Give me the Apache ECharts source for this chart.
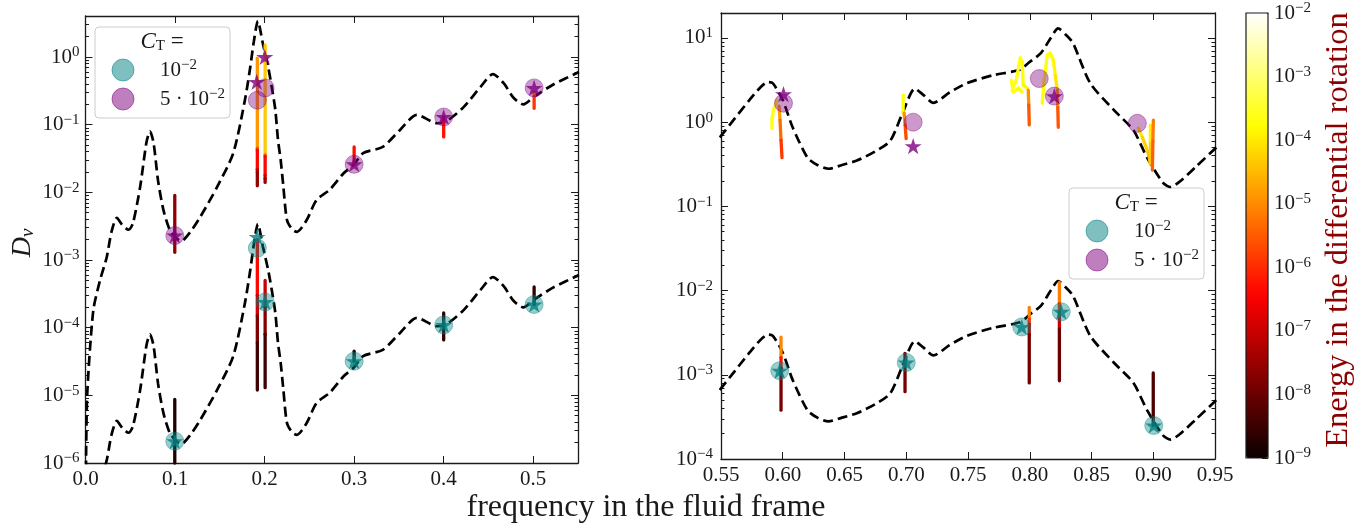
<!DOCTYPE html>
<html>
<head>
<meta charset="utf-8">
<script src="https://cdn.jsdelivr.net/npm/echarts@6/dist/echarts.min.js"></script>
<style>
html, body { margin: 0; padding: 0; background: #fff; }
#chart { width: 1367px; height: 525px; }
</style>
</head>
<body>
<div id="chart"></div>
<script>
// 左图：虚线曲线（频率 / D）
var leftFreq = [0.0, 0.0006, 0.002, 0.0087, 0.0162, 0.0237, 0.029, 0.035, 0.041, 0.048, 0.053, 0.061, 0.068, 0.072,
    0.076, 0.081, 0.087, 0.094, 0.100, 0.107, 0.117, 0.128, 0.147, 0.165, 0.178, 0.184, 0.188, 0.1925,
    0.198, 0.204, 0.208, 0.212, 0.215, 0.218, 0.221, 0.225, 0.231, 0.236, 0.247, 0.258, 0.273, 0.288, 0.300,
    0.310, 0.332, 0.351, 0.370, 0.393, 0.402, 0.422, 0.441, 0.455, 0.467, 0.478, 0.489, 0.501, 0.522, 0.551];
var leftUpperD = [1e-7, 1.1e-6, 1.1e-5, 1.8e-4, 5e-4, 1.1e-3, 2.6e-3, 4.2e-3, 3.3e-3, 2.8e-3, 3.5e-3, 1.2e-2, 5.4e-2, 8e-2,
    5.4e-2, 1.5e-2, 5.5e-3, 2.8e-3, 2.2e-3, 1.9e-3, 2.6e-3, 4.3e-3, 1.2e-2, 3.8e-2, 0.23, 0.71, 1.7, 3.4,
    1.6, 0.71, 0.36, 0.165, 0.059, 0.030, 0.012, 3.9e-3, 2.8e-3, 2.6e-3, 3.9e-3, 7.7e-3, 1.1e-2, 1.9e-2, 2.6e-2,
    3.8e-2, 4.7e-2, 8.3e-2, 0.14, 0.105, 0.11, 0.18, 0.36, 0.56, 0.41, 0.25, 0.2, 0.26, 0.39, 0.6];
var leftLowerD = [1e-10, 1.1e-9, 1.1e-8, 1.8e-7, 5e-7, 1.1e-6, 2.6e-6, 4.2e-6, 3.3e-6, 2.8e-6, 3.5e-6, 1.2e-5, 5.4e-5, 8e-5,
    5.4e-5, 1.5e-5, 5.5e-6, 2.8e-6, 2.2e-6, 1.9e-6, 2.6e-6, 4.3e-6, 1.2e-5, 3.8e-5, 2.3e-4, 7.1e-4, 1.7e-3, 3.4e-3,
    1.6e-3, 7.1e-4, 3.6e-4, 1.65e-4, 5.9e-5, 3.0e-5, 1.2e-5, 3.9e-6, 2.8e-6, 2.6e-6, 3.9e-6, 7.7e-6, 1.1e-5, 1.9e-5, 2.6e-5,
    3.8e-5, 4.7e-5, 8.3e-5, 1.4e-4, 1.05e-4, 1.1e-4, 1.8e-4, 3.6e-4, 5.6e-4, 4.1e-4, 2.5e-4, 2e-4, 2.6e-4, 3.9e-4, 6e-4];

// 右图：虚线曲线
var rightFreq = [0.549, 0.561, 0.573, 0.582, 0.588, 0.592, 0.600, 0.608, 0.620, 0.628, 0.637, 0.648, 0.660, 0.675,
    0.687, 0.697, 0.707, 0.714, 0.722, 0.735, 0.749, 0.770, 0.792, 0.800, 0.809, 0.817, 0.823, 0.829, 0.835,
    0.849, 0.868, 0.884, 0.895, 0.908, 0.914, 0.922, 0.935, 0.951];
var rightUpperD = [0.66, 1.1, 1.83, 2.6, 3.0, 2.9, 1.83, 0.87, 0.38, 0.31, 0.28, 0.31, 0.35, 0.45,
    0.6, 1.28, 2.5, 2.1, 1.7, 2.25, 2.9, 3.6, 4.2, 5.2, 6.6, 10, 13, 11, 8.7,
    2.9, 1.4, 0.8, 0.38, 0.19, 0.17, 0.2, 0.3, 0.5];
var rightLowerD = [6.6e-4, 1.1e-3, 1.83e-3, 2.6e-3, 3.0e-3, 2.9e-3, 1.83e-3, 8.7e-4, 3.8e-4, 3.1e-4, 2.8e-4, 3.1e-4, 3.5e-4, 4.5e-4,
    6e-4, 1.28e-3, 2.5e-3, 2.1e-3, 1.7e-3, 2.25e-3, 2.9e-3, 3.6e-3, 4.2e-3, 5.2e-3, 6.6e-3, 1.0e-2, 1.3e-2, 1.1e-2, 8.7e-3,
    2.9e-3, 1.4e-3, 8e-4, 3.8e-4, 1.9e-4, 1.7e-4, 2e-4, 3e-4, 5e-4];

// 散点：圆点和星号 [频率, D]
var leftTealCircles = [[0.0997, 2.1e-6], [0.1919, 1.5e-3], [0.2006, 2.4e-4], [0.300, 3.2e-5], [0.400, 1.1e-4], [0.501, 2.2e-4]];
var leftTealStars = [[0.0997, 2.1e-6], [0.1916, 2.2e-3], [0.2006, 2.4e-4], [0.300, 3.2e-5], [0.400, 1.1e-4], [0.501, 2.2e-4]];
var leftPurpleCircles = [[0.0997, 2.3e-3], [0.1919, 0.23], [0.2006, 0.35], [0.300, 2.6e-2], [0.400, 0.13], [0.501, 0.35]];
var leftPurpleStars = [[0.0997, 2.3e-3], [0.1912, 0.43], [0.2002, 1.0], [0.300, 2.6e-2], [0.400, 0.13], [0.501, 0.35]];
var rightTealCircles = [[0.5975, 1.12e-3], [0.700, 1.4e-3], [0.7935, 3.7e-3], [0.8255, 5.6e-3], [0.9004, 2.5e-4]];
var rightTealStars = [[0.5975, 1.12e-3], [0.700, 1.4e-3], [0.7935, 3.7e-3], [0.8255, 5.6e-3], [0.9004, 2.5e-4]];
var rightPurpleCircles = [[0.6006, 1.68], [0.7056, 1.0], [0.8077, 3.3], [0.8199, 2.04], [0.8871, 0.97]];
var rightPurpleStars = [[0.6006, 2.15], [0.7056, 0.52], [0.8199, 2.04]];

// 轨迹线：[频率, D, log10(能量)]
var leftTracks = [
    [[0.0997, 9e-3, -7.6], [0.0997, 1.3e-3, -7.6]],
    [[0.1919, 0.96, -4.8], [0.1919, 0.045, -4.9], [0.1919, 0.042, -6.3], [0.1919, 0.022, -6.5], [0.1919, 0.02, -7.5], [0.1919, 0.0125, -7.6]],
    [[0.2006, 1.5, -4.3], [0.2006, 0.036, -4.4], [0.2006, 0.034, -6.3], [0.2006, 0.018, -6.5], [0.2006, 0.016, -7.4], [0.2006, 0.014, -7.5]],
    [[0.300, 0.047, -6.3], [0.300, 0.026, -6.3]],
    [[0.400, 0.13, -6.3], [0.400, 0.066, -6.2]],
    [[0.501, 0.30, -5.0], [0.501, 0.26, -5.6], [0.501, 0.175, -6.2]],
    [[0.0997, 8.7e-6, -8.7], [0.0997, 1e-6, -8.8]],
    [[0.1919, 2e-3, -6.3], [0.1919, 3e-4, -6.5], [0.1919, 1.5e-4, -7.4], [0.1919, 6e-5, -8.2], [0.1919, 1.2e-5, -8.7]],
    [[0.2006, 5e-4, -6.7], [0.2006, 2e-4, -7.3], [0.2006, 8e-5, -8.1], [0.2006, 1.3e-5, -8.7]],
    [[0.300, 4.5e-5, -8.7], [0.300, 3.2e-5, -8.7]],
    [[0.400, 1.65e-4, -8.6], [0.400, 6.6e-5, -8.6]],
    [[0.501, 4e-4, -8.6], [0.501, 2.2e-4, -8.6]]
];
var rightTracks = [
    [[0.5954, 1.83, -3.6], [0.5930, 1.47, -3.6], [0.5913, 1.12, -3.7], [0.5913, 0.85, -3.7]],
    [[0.5970, 1.55, -4.6], [0.5978, 1.06, -5.0], [0.5986, 0.61, -5.6], [0.5994, 0.38, -6.1]],
    [[0.6975, 2.1, -3.7], [0.6975, 1.64, -3.7], [0.6975, 1.28, -3.8]],
    [[0.6983, 1.28, -4.6], [0.6991, 0.92, -5.3], [0.6999, 0.64, -6.0]],
    [[0.7858, 2.4, -3.7], [0.7891, 3.16, -3.6], [0.7923, 5.8, -3.6], [0.7939, 5.2, -3.7], [0.7947, 2.76, -3.8], [0.7980, 2.54, -3.9]],
    [[0.7850, 3.16, -3.6], [0.7866, 2.28, -3.6], [0.7907, 2.54, -3.7], [0.7939, 2.28, -3.8]],
    [[0.7988, 2.4, -4.7], [0.7992, 1.6, -5.2], [0.7996, 0.93, -5.9]],
    [[0.8101, 1.68, -3.8], [0.8117, 3.16, -3.7], [0.8142, 6.3, -3.6], [0.8166, 6.6, -3.7], [0.8190, 5.5, -3.8], [0.8207, 3.6, -3.9], [0.8223, 2.4, -4.2]],
    [[0.8223, 2.4, -4.6], [0.8227, 1.5, -5.2], [0.8231, 0.87, -5.9]],
    [[0.8879, 0.85, -3.9], [0.8912, 0.66, -4.1], [0.8960, 0.43, -4.4], [0.8977, 0.32, -4.6], [0.8977, 0.6, -4.0], [0.8977, 0.92, -3.9]],
    [[0.9001, 1.06, -5.0], [0.8997, 0.6, -5.3], [0.8993, 0.27, -5.6]],
    [[0.5986, 2.8e-3, -4.9], [0.5986, 1.6e-3, -5.2], [0.5986, 1.2e-3, -7.2], [0.5986, 3.8e-4, -8.5]],
    [[0.699, 1.8e-3, -7.5], [0.699, 6.3e-4, -8.2]],
    [[0.7996, 6.3e-3, -5.0], [0.7996, 4.6e-3, -5.2], [0.7996, 4e-3, -6.5], [0.7996, 3e-3, -7.4], [0.7996, 8e-4, -8.4]],
    [[0.824, 1.25e-2, -5.0], [0.824, 7e-3, -5.3], [0.824, 5.5e-3, -6.5], [0.824, 3.5e-3, -7.4], [0.824, 8.5e-4, -8.5]],
    [[0.900, 1.05e-3, -8.2], [0.900, 2.5e-4, -8.4]]
];

// 刻度
var leftXTicks = [0.0, 0.1, 0.2, 0.3, 0.4, 0.5];
var rightXTicks = [0.55, 0.60, 0.65, 0.70, 0.75, 0.80, 0.85, 0.90, 0.95];
var leftYRange = [1e-6, 4.04];
var rightYRange = [1e-4, 19.8];
var energyRange = [1e-9, 1e-2];

var FONT = 'Liberation Serif';
var INK = '#1a1a1a';
var TEAL = 'rgba(0,128,128,0.5)';
var PURPLE = 'rgba(128,0,128,0.5)';
var STAR = 'path://M50,0 L61.8,36.2 L100,36.2 L69.1,58.6 L80.9,95 L50,72.6 L19.1,95 L30.9,58.6 L0,36.2 L38.2,36.2 Z';

function lg(v) { return Math.log10(v); }

function toPoints(xs, ys) {
    return xs.map(function (x, i) { return [x, lg(ys[i])]; });
}

function toLogPairs(list) {
    return list.map(function (p) { return [p[0], lg(p[1])]; });
}

// 轨迹拆成线段，颜色由 visualMap 按能量给出
function toSegments(tracks) {
    var out = [];
    tracks.forEach(function (t) {
        for (var i = 0; i < t.length - 1; i++) {
            out.push([t[i][0], lg(t[i][1]), t[i + 1][0], lg(t[i + 1][1]), (t[i][2] + t[i + 1][2]) / 2]);
        }
    });
    return out;
}

function majorVals(lo, hi) {
    var out = [];
    for (var n = Math.ceil(lo - 1e-9); n <= hi + 1e-9; n++) out.push(n);
    return out;
}

function minorVals(lo, hi) {
    var out = [];
    for (var n = Math.floor(lo); n < hi; n++) {
        for (var k = 2; k <= 9; k++) {
            var v = n + Math.log10(k);
            if (v > lo && v < hi) out.push(v);
        }
    }
    return out;
}

// 热力色带 hot
function hotColor(t) {
    var r = Math.min(1, 0.0416 + (1 - 0.0416) * t / 0.365);
    var g = Math.min(1, Math.max(0, (t - 0.365) / 0.381));
    var b = Math.min(1, Math.max(0, (t - 0.746) / 0.254));
    function h(c) { var s = Math.round(c * 255).toString(16); return s.length < 2 ? '0' + s : s; }
    return '#' + h(r) + h(g) + h(b);
}
var hotColors = [];
for (var i = 0; i <= 40; i++) hotColors.push(hotColor(i / 40));

var supRich = {
    b: { fontFamily: FONT, fontSize: 21, color: INK, lineHeight: 24 },
    s: { fontFamily: FONT, fontSize: 15, color: INK, verticalAlign: 'top', lineHeight: 15 }
};

function powLabel(v) {
    var n = Math.round(v);
    return '{b|10}{s|' + (n < 0 ? '\u2212' + (-n) : n) + '}';
}

function yAxisSet(grid, range, labelSide, showLabels, margin) {
    var lo = lg(range[0]), hi = lg(range[1]);
    var other = labelSide === 'left' ? 'right' : 'left';
    var base = { type: 'value', gridIndex: grid, min: lo, max: hi, splitLine: { show: false } };
    function axis(pos, major, labels, line) {
        return Object.assign({}, base, {
            position: pos,
            axisLine: { show: line, onZero: false, lineStyle: { color: INK, width: 1.3 } },
            axisTick: {
                show: true, inside: true, length: major ? 7 : 3.5,
                customValues: major ? majorVals(lo, hi) : minorVals(lo, hi),
                lineStyle: { color: INK, width: 1 }
            },
            axisLabel: labels ? {
                show: true, customValues: majorVals(lo, hi), formatter: powLabel,
                rich: supRich, margin: margin
            } : { show: false }
        });
    }
    return [
        axis(labelSide, true, showLabels, true),
        axis(labelSide, false, false, false),
        axis(other, true, false, true),
        axis(other, false, false, false)
    ];
}

function xAxisSet(grid, ticks, digits) {
    var base = { type: 'value', gridIndex: grid, min: ticks[0], splitLine: { show: false } };
    return [
        Object.assign({}, base, {
            max: grid === 0 ? 0.55 : ticks[ticks.length - 1],
            position: 'bottom',
            axisLine: { show: true, onZero: false, lineStyle: { color: INK, width: 1.3 } },
            axisTick: { show: true, inside: true, length: 7, customValues: ticks, lineStyle: { color: INK } },
            axisLabel: {
                show: true, customValues: ticks, margin: 6, color: INK,
                fontFamily: FONT, fontSize: 21,
                formatter: function (v) { return v.toFixed(digits); }
            }
        }),
        Object.assign({}, base, {
            max: grid === 0 ? 0.55 : ticks[ticks.length - 1],
            position: 'top',
            axisLine: { show: true, onZero: false, lineStyle: { color: INK, width: 1.3 } },
            axisTick: { show: true, inside: true, length: 7, customValues: ticks, lineStyle: { color: INK } },
            axisLabel: { show: false }
        })
    ];
}

var xAxes = xAxisSet(0, leftXTicks, 1).concat(xAxisSet(1, rightXTicks, 2)).concat([
    { type: 'value', gridIndex: 2, min: 0, max: 1, show: false }
]);

var cbLo = lg(energyRange[0]), cbHi = lg(energyRange[1]);
var yAxes = yAxisSet(0, leftYRange, 'left', true, 6)
    .concat(yAxisSet(1, rightYRange, 'left', true, 8))
    .concat([
        {
            type: 'value', gridIndex: 2, min: cbLo, max: cbHi, position: 'right',
            splitLine: { show: false },
            axisLine: { show: false, onZero: false },
            axisTick: { show: true, inside: true, length: 6, customValues: majorVals(cbLo, cbHi), lineStyle: { color: INK } },
            axisLabel: { show: true, customValues: majorVals(cbLo, cbHi), formatter: powLabel, rich: supRich, margin: 6 }
        },
        {
            type: 'value', gridIndex: 2, min: cbLo, max: cbHi, position: 'right',
            splitLine: { show: false },
            axisLine: { show: false, onZero: false },
            axisTick: { show: true, inside: true, length: 3, customValues: minorVals(cbLo, cbHi), lineStyle: { color: INK } },
            axisLabel: { show: false }
        }
    ]);

function curve(xi, yi, xs, ys) {
    return {
        type: 'line', xAxisIndex: xi, yAxisIndex: yi, data: toPoints(xs, ys),
        showSymbol: false, smooth: 0.25, silent: true, z: 2,
        lineStyle: { color: '#000', width: 2.7, type: [10, 5] }
    };
}

function tracks(xi, yi, list) {
    return {
        type: 'custom', xAxisIndex: xi, yAxisIndex: yi, data: toSegments(list), z: 3, silent: true,
        encode: { x: [0, 2], y: [1, 3] },
        renderItem: function (params, api) {
            var p1 = api.coord([api.value(0), api.value(1)]);
            var p2 = api.coord([api.value(2), api.value(3)]);
            return {
                type: 'line',
                shape: { x1: p1[0], y1: p1[1], x2: p2[0], y2: p2[1] },
                style: { stroke: api.visual('color'), lineWidth: 3.3, lineCap: 'round' }
            };
        }
    };
}

function dots(xi, yi, list, color) {
    return {
        type: 'scatter', xAxisIndex: xi, yAxisIndex: yi, data: toLogPairs(list), z: 4, silent: true,
        symbol: 'circle', symbolSize: 18,
        itemStyle: { color: color, borderColor: color, borderWidth: 1 }
    };
}

function stars(xi, yi, list, color) {
    return {
        type: 'scatter', xAxisIndex: xi, yAxisIndex: yi, data: toLogPairs(list), z: 5, silent: true,
        symbol: STAR, symbolSize: 17, symbolKeepAspect: true,
        itemStyle: { color: color }
    };
}

function legendBox(x, y) {
    var tx = { fontFamily: FONT, fontSize: 21, fill: INK };
    return {
        type: 'group', x: x, y: y, z: 20,
        children: [
            { type: 'rect', shape: { x: 0, y: 0, width: 135, height: 91, r: 4 },
              style: { fill: 'rgba(255,255,255,0.85)', stroke: '#cccccc', lineWidth: 1 } },
            { type: 'text', style: {
                x: 67, y: 15, align: 'center', verticalAlign: 'middle',
                text: '{i|C}{t|T}{n| =}',
                rich: {
                    i: { fontFamily: FONT, fontSize: 23, fontStyle: 'italic', fill: INK },
                    t: { fontFamily: FONT, fontSize: 15, fill: INK, verticalAlign: 'bottom', lineHeight: 15 },
                    n: { fontFamily: FONT, fontSize: 23, fill: INK }
                } } },
            { type: 'circle', shape: { cx: 28, cy: 43, r: 11 }, style: { fill: TEAL, stroke: TEAL } },
            { type: 'circle', shape: { cx: 28, cy: 72, r: 11 }, style: { fill: PURPLE, stroke: PURPLE } },
            { type: 'text', style: Object.assign({}, tx, {
                x: 65, y: 43, verticalAlign: 'middle', text: '{b|10}{s|\u22122}', rich: supRich }) },
            { type: 'text', style: Object.assign({}, tx, {
                x: 65, y: 72, verticalAlign: 'middle', text: '{b|5 \u00b7 10}{s|\u22122}', rich: supRich }) }
        ]
    };
}

var chart = echarts.init(document.getElementById('chart'));
var option = {
    animation: false,
    backgroundColor: '#fff',
    grid: [
        { left: 85.5, top: 16, width: 492.5, height: 447, outerBoundsMode: 'none' },
        { left: 721, top: 13, width: 494, height: 446, outerBoundsMode: 'none' },
        { left: 1246, top: 13, width: 22, height: 445, outerBoundsMode: 'none' }
    ],
    xAxis: xAxes,
    yAxis: yAxes,
    visualMap: {
        type: 'continuous', min: cbLo, max: cbHi, dimension: 4, seriesIndex: [4, 5],
        inRange: { color: hotColors },
        orient: 'vertical', left: 1246, top: 13, itemWidth: 22, itemHeight: 445,
        calculable: false, hoverLink: false, padding: 0, text: null, show: true
    },
    series: [
        curve(0, 0, leftFreq, leftUpperD),
        curve(0, 0, leftFreq, leftLowerD),
        curve(2, 4, rightFreq, rightUpperD),
        curve(2, 4, rightFreq, rightLowerD),
        tracks(0, 0, leftTracks),
        tracks(2, 4, rightTracks),
        dots(0, 0, leftTealCircles, TEAL),
        dots(0, 0, leftPurpleCircles, PURPLE),
        dots(2, 4, rightTealCircles, TEAL),
        dots(2, 4, rightPurpleCircles, PURPLE),
        stars(0, 0, leftTealStars, '#008080'),
        stars(0, 0, leftPurpleStars, '#800080'),
        stars(2, 4, rightTealStars, '#008080'),
        stars(2, 4, rightPurpleStars, '#800080')
    ],
    graphic: [
        { type: 'rect', z: 30, shape: { x: 1246, y: 13, width: 22, height: 445 },
          style: { fill: 'none', stroke: INK, lineWidth: 1.2 } },
        legendBox(95, 27),
        legendBox(1069, 188),
        { type: 'text', z: 20, style: {
            x: 646, y: 508, align: 'center', verticalAlign: 'middle',
            text: 'frequency in the fluid frame', fontFamily: FONT, fontSize: 32, fill: INK } },
        { type: 'text', z: 20, x: 23, y: 243, rotation: Math.PI / 2, style: {
            x: 0, y: 0, align: 'center', verticalAlign: 'middle',
            text: '{i|D}{s|\u03bd}',
            rich: {
                i: { fontFamily: FONT, fontSize: 28, fontStyle: 'italic', fill: INK },
                s: { fontFamily: FONT, fontSize: 19, fontStyle: 'italic', fill: INK, verticalAlign: 'bottom', lineHeight: 18 }
            } } },
        { type: 'text', z: 20, x: 1338, y: 230, rotation: Math.PI / 2, style: {
            x: 0, y: 0, align: 'center', verticalAlign: 'middle',
            text: 'Energy in the differential rotation', fontFamily: FONT, fontSize: 32.5, fill: '#8b0000' } }
    ]
};
chart.setOption(option);
</script>
</body>
</html>
